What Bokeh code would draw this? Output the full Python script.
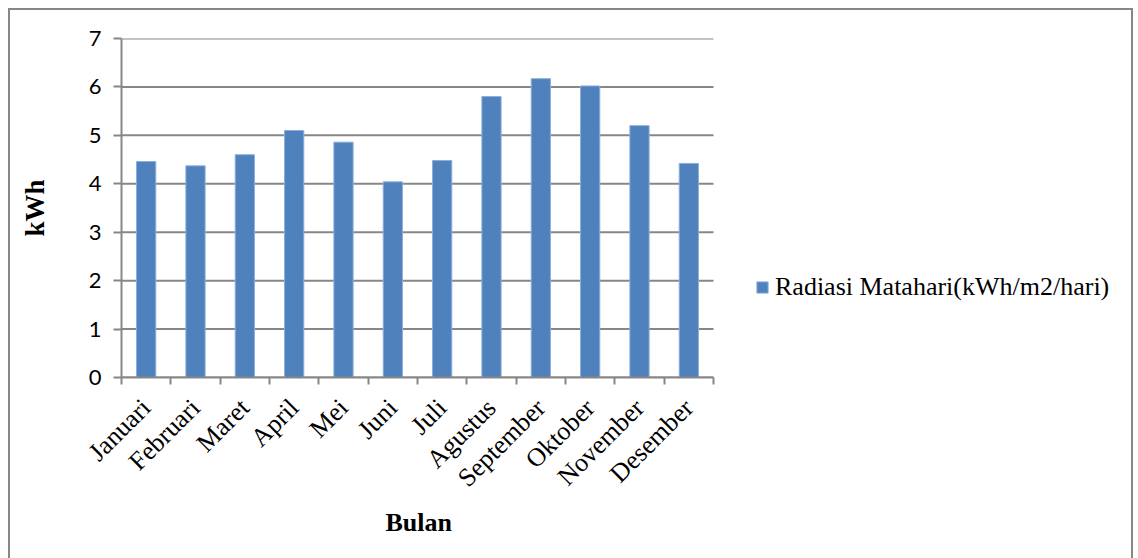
import math
from bokeh.plotting import figure
from bokeh.models import FixedTicker, Legend, LegendItem, ColumnDataSource, Range1d, Title
from bokeh.embed import file_html
from bokeh.resources import INLINE

months = ["Januari", "Februari", "Maret", "April", "Mei", "Juni", "Juli",
          "Agustus", "September", "Oktober", "November", "Desember"]
radiasi = [4.46, 4.37, 4.60, 5.10, 4.86, 4.04, 4.48, 5.80, 6.17, 6.02, 5.20, 4.42]
series_name = "Radiasi Matahari(kWh/m2/hari)"
x_title = "Bulan"
y_title = "kWh"
y_ticks = [0, 1, 2, 3, 4, 5, 6, 7]

n = len(months)
xpos = [i + 0.5 for i in range(n)]
src = ColumnDataSource(dict(x=xpos, top=radiasi))

FRAME_W = 1000
PLOT_W = 592  # pixel width of the category area
x_end = n * FRAME_W / PLOT_W

p = figure(frame_width=FRAME_W, frame_height=339, output_backend="svg", toolbar_location=None,
           x_range=Range1d(0, x_end), y_range=Range1d(0, 7),
           min_border_left=111, min_border_top=28, min_border_bottom=185,
           min_border_right=10, margin=(8, 0, 0, 8),
           styles={"border-top": "2px solid #878787", "border-left": "2px solid #878787",
                   "border-right": "2px solid #878787"})
p.outline_line_color = None
p.background_fill_color = "white"
p.border_fill_color = "white"

# horizontal gridlines limited to the category area
grid_src = ColumnDataSource(dict(x0=[0] * len(y_ticks), x1=[n] * len(y_ticks), y=y_ticks))
p.segment(x0="x0", y0="y", x1="x1", y1="y", source=grid_src, line_color="#878787", line_width=2)

r = p.vbar(x="x", top="top", width=0.39, source=src, fill_color="#4F81BD",
           line_color="#8CAEDB", line_width=1)

# x axis
p.xaxis.bounds = (0, n)
p.xaxis.ticker = FixedTicker(ticks=xpos, minor_ticks=list(range(n + 1)))
p.xaxis.major_label_overrides = {x: m for x, m in zip(xpos, months)}
p.xaxis.major_tick_out = 0
p.xaxis.major_tick_in = 0
p.xaxis.minor_tick_out = 7
p.xaxis.minor_tick_in = 0
p.xaxis.minor_tick_line_color = "#878787"
p.xaxis.minor_tick_line_width = 2
p.xaxis.axis_line_color = "#878787"
p.xaxis.axis_line_width = 2
p.xaxis.major_label_orientation = math.pi / 4
p.xaxis.major_label_text_font = "Liberation Serif"
p.xaxis.major_label_text_font_size = "26px"
p.xaxis.major_label_text_color = "black"
p.xaxis.major_label_standoff = 19

# x-axis title, placed under the category area
p.add_layout(Title(text=x_title, align="left", offset=264, standoff=1,
                   text_font="Liberation Serif", text_font_style="bold",
                   text_font_size="26px", text_color="black"), "below")

# y axis
p.yaxis.ticker = FixedTicker(ticks=y_ticks)
p.yaxis.minor_tick_line_color = None
p.yaxis.major_tick_out = 8
p.yaxis.major_tick_in = 0
p.yaxis.major_tick_line_color = "#878787"
p.yaxis.major_tick_line_width = 2
p.yaxis.axis_line_color = "#878787"
p.yaxis.axis_line_width = 2
p.yaxis.major_label_text_font = "Lato"
p.yaxis.major_label_text_font_size = "22px"
p.yaxis.major_label_text_color = "black"
p.yaxis.major_label_standoff = 12
p.yaxis.axis_label = y_title
p.yaxis.axis_label_text_font = "Liberation Serif"
p.yaxis.axis_label_text_font_style = "bold"
p.yaxis.axis_label_text_font_size = "27px"
p.yaxis.axis_label_text_color = "black"
p.yaxis.axis_label_standoff = 36

p.xgrid.grid_line_color = None
p.ygrid.grid_line_color = None

legend = Legend(items=[LegendItem(label=series_name, renderers=[r])],
                location=(634, 75), border_line_color=None,
                background_fill_alpha=0, padding=0, margin=0,
                glyph_width=14, glyph_height=14, label_standoff=6,
                label_text_font="Liberation Serif", label_text_font_size="26px",
                label_text_color="black")
p.add_layout(legend, "center")

open("out.html", "w").write(file_html(p, INLINE))
